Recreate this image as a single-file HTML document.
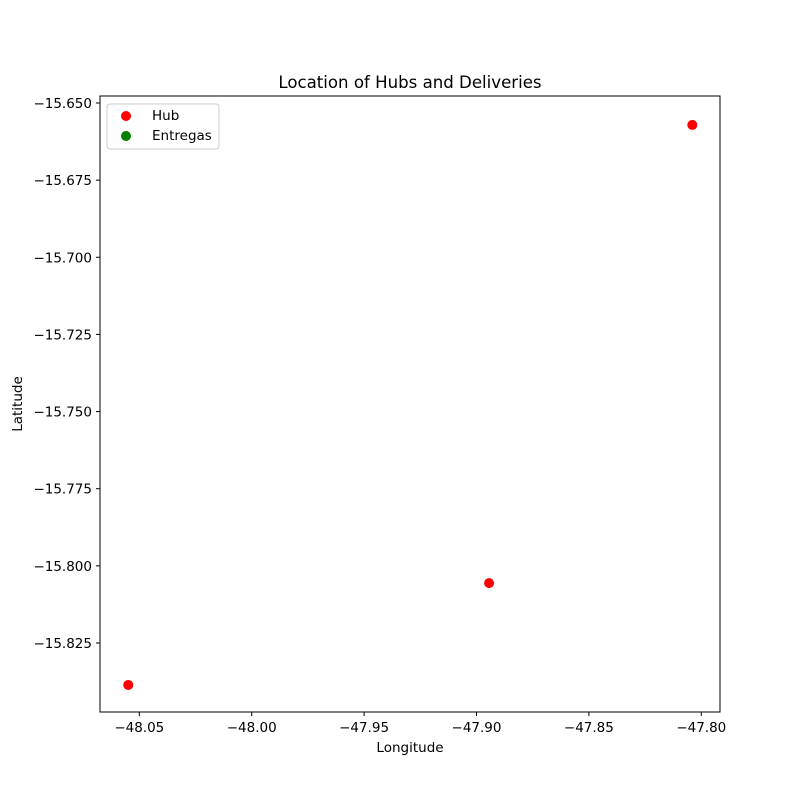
<!DOCTYPE html>
<html><head><meta charset="utf-8"><style>
body{margin:0;background:#fff;}
svg{font-family:"DejaVu Sans","Liberation Sans",sans-serif;}
</style></head><body>
<svg id="chart" width="800" height="800" xmlns="http://www.w3.org/2000/svg">
<rect width="800" height="800" fill="#fff"/>
<text x="410" y="88" font-size="16.6" text-anchor="middle">Location of Hubs and Deliveries</text>
<g id="plot"></g>
<rect x="100" y="96" width="620" height="616" fill="none" stroke="#000" stroke-width="1"/>
<text x="410" y="752" font-size="13.5" text-anchor="middle">Longitude</text>
<text x="22" y="404" font-size="13.5" text-anchor="middle" transform="rotate(-90 22 404)">Latitude</text>
<g>
<rect x="107" y="104" width="112" height="45" fill="#fff" stroke="#ccc" rx="3"/>
<circle cx="126" cy="116" r="5" fill="red"/>
<text x="152" y="120" font-size="13.5">Hub</text>
<circle cx="126" cy="136" r="5" fill="green"/>
<text x="152" y="140" font-size="13.5">Entregas</text>
</g>
</svg>
<script>
const hubLon=[-48.0549,-47.8944,-47.8040];
const hubLat=[-15.8386,-15.8056,-15.6571];
const entregasLon=[];
const entregasLat=[];
const xTicks=[-48.05,-48.00,-47.95,-47.90,-47.85,-47.80];
const yTicks=[-15.650,-15.675,-15.700,-15.725,-15.750,-15.775,-15.800,-15.825];
const NS="http://www.w3.org/2000/svg";
const g=document.getElementById('plot');
function xs(v){return 139.3+(v+48.05)/0.05*112.4;}
function ys(v){return 103+(-15.650-v)/0.025*77.14;}
function mk(t,a){const e=document.createElementNS(NS,t);for(const k in a)e.setAttribute(k,a[k]);g.appendChild(e);return e;}
xTicks.forEach(v=>{const x=xs(v);
const l=mk('line',{x1:x,x2:x,y1:712,y2:716,stroke:'#000'});


const t=mk('text',{x:x,y:732,'font-size':13.5,'text-anchor':'middle'});t.textContent=v.toFixed(2).replace('-','\u2212');

});
yTicks.forEach(v=>{const y=ys(v);
const l=mk('line',{x1:96,x2:100,y1:y,y2:y,stroke:'#000'});


const t=mk('text',{x:92,y:y+5,'font-size':13.5,'text-anchor':'end'});t.textContent=v.toFixed(3).replace('-','\u2212');

});
hubLon.forEach((v,i)=>{const c=mk('circle',{cx:xs(v),cy:ys(hubLat[i]),r:5,fill:'red'});

});
entregasLon.forEach((v,i)=>{const c=mk('circle',{cx:xs(v),cy:ys(entregasLat[i]),r:5,fill:'green'});

});
</script>
</body></html>
